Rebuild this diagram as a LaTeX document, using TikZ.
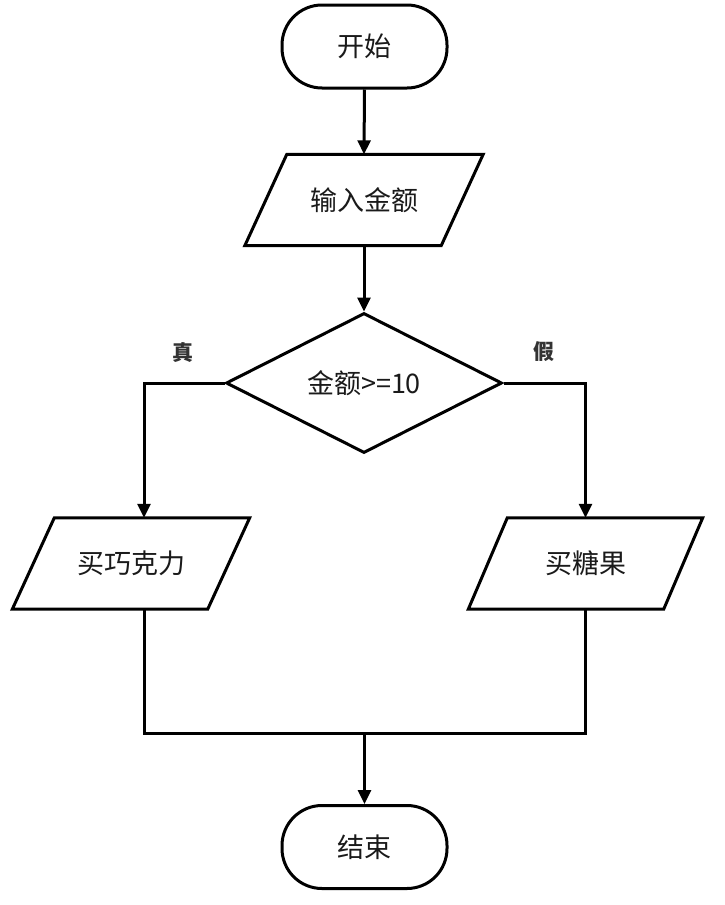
\documentclass[tikz,border=0pt]{standalone}
\usepackage{fontspec}
\newfontfamily\cjk{Noto Sans CJK SC}
\usetikzlibrary{arrows.meta,shapes.geometric}
\definecolor{txt}{HTML}{1A1A1A}
\definecolor{lab}{HTML}{333333}
\begin{document}
\begin{tikzpicture}[x=1pt,y=-1pt,
  every node/.style={font=\cjk\fontsize{27}{30}\selectfont, text=txt},
  line/.style={draw=black, line width=3pt, line join=miter},
  arr/.style={line, -{Triangle[length=14pt,width=13pt]}},
  term/.style={line, rounded corners=40pt, minimum width=165pt, minimum height=83pt, inner sep=0pt},
  iobox/.style={draw=none, minimum width=196pt, minimum height=91pt, inner sep=0pt},
  decbox/.style={line, diamond, minimum width=276pt, minimum height=140pt, inner sep=0pt},
  lbl/.style={font=\cjk\bfseries\fontsize{21}{24}\selectfont, text=lab}
]
\useasboundingbox (0,0) rectangle (724,905);
\fill[white] (0,0) rectangle (724,905);

\node[term] (start) at (364.5,46.5) {开始};

\node[iobox] (in) at (364,200) {输入金额};
\draw[line] ([xshift=21pt]in.north west) -- ([xshift=21pt]in.north east)
  -- ([xshift=-21pt]in.south east) -- ([xshift=-21pt]in.south west) -- cycle;

\node[decbox] (dec) at (364,383) {金额>=10};

\node[iobox, minimum width=195pt] (L) at (131,563.5) {买巧克力};
\draw[line] ([xshift=21pt]L.north west) -- ([xshift=21pt]L.north east)
  -- ([xshift=-21pt]L.south east) -- ([xshift=-21pt]L.south west) -- cycle;

\node[iobox, minimum width=195pt] (R) at (585.5,563.5) {买糖果};
\draw[line] ([xshift=19.5pt]R.north west) -- ([xshift=19.5pt]R.north east)
  -- ([xshift=-19.5pt]R.south east) -- ([xshift=-19.5pt]R.south west) -- cycle;

\node[term] (stop) at (364.5,847) {结束};

\node[lbl] (t) at (183,353) {真};
\node[lbl] (f) at (544,352) {假};

\coordinate (m) at (364.5,733);

\draw[arr] (start.south) -- (in.north);
\draw[arr] (in.south) -- (dec.north);
\draw[arr] (dec.west) -| ([xshift=13pt]L.north);
\draw[arr] (dec.east) -| (R.north);
\draw[line] ([xshift=13pt]L.south) |- (m) -| (R.south);
\draw[arr] (m) -- (stop.north);
\end{tikzpicture}
\end{document}
